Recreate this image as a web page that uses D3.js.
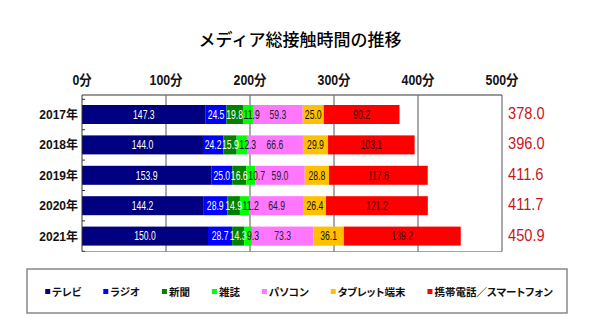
<!DOCTYPE html>
<html><head><meta charset="utf-8">
<script src="https://cdn.jsdelivr.net/npm/d3@7"></script>
<style>
body{margin:0;background:#fff;}
svg{display:block;}
text{font-family:"Liberation Sans","Noto Sans CJK JP",sans-serif;}
</style></head>
<body><svg id="c" width="600" height="336"></svg>
<script>
const years = ["2017年","2018年","2019年","2020年","2021年"];
const seriesNames = ["テレビ","ラジオ","新聞","雑誌","パソコン","タブレット端末","携帯電話／スマートフォン"];
const tv      = [147.3,144.0,153.9,144.2,150.0];
const radio   = [24.5,24.2,25.0,28.9,28.7];
const paper   = [19.8,15.9,16.6,14.9,14.3];
const magazine= [11.9,12.3,10.7,11.2,9.3];
const pc      = [59.3,66.6,59.0,64.9,73.3];
const tablet  = [25.0,29.9,28.8,26.4,36.1];
const mobile  = [90.2,103.1,117.6,121.2,139.2];
const totals  = [378.0,396.0,411.6,411.7,450.9];
const xTicks  = [0,100,200,300,400,500];

const colors = ["#000080","#0000ff","#008000","#00ff00","#ff77ff","#ffc000","#ff0000"];
const labelColors = ["#fff","#fff","#fff","#111","#222","#111","#3a0000"];
const seriesVals = [tv,radio,paper,magazine,pc,tablet,mobile];

const svg = d3.select("#c");
const x = d3.scaleLinear().domain([0,500]).range([82,502]);
const y = d3.scaleBand().domain(years).range([99.3,251.3]);
const barH = 19;
const LS = 0.72; // horizontal squeeze of value labels

// title
svg.append("text").attr("x",300).attr("y",46).attr("text-anchor","middle")
  .style("font-family","'Noto Sans CJK JP',sans-serif").style("font-size","17px").style("font-weight","500")
  .attr("fill","#000").text("メディア総接触時間の推移");

// gridlines
svg.append("g").selectAll("line").data(xTicks.slice(1,5)).join("line")
  .attr("x1",d=>x(d)).attr("x2",d=>x(d)).attr("y1",95).attr("y2",251.5)
  .attr("stroke","#555").attr("stroke-width",1);

// top axis labels
svg.append("g").selectAll("g").data(xTicks).join("g")
  .attr("transform",d=>`translate(${x(d)},85) scale(0.88,1)`)
  .append("text").attr("text-anchor","middle")
  .style("font-size","14px").style("font-weight","bold").attr("fill","#111")
  .text(d=>d+"分");

// stacked data
const stackData = years.map((yr,i)=>{const o={year:yr}; seriesNames.forEach((s,k)=>o[s]=seriesVals[k][i]); return o;});
const stacked = d3.stack().keys(seriesNames)(stackData);

const layers = svg.append("g").selectAll("g").data(stacked).join("g")
  .attr("fill",(d,i)=>colors[i]);
layers.selectAll("rect").data(d=>d).join("rect")
  .attr("x",d=>x(d[0])).attr("width",d=>x(d[1])-x(d[0]))
  .attr("y",d=>y(d.data.year)+(y.bandwidth()-barH)/2).attr("height",barH);

// value labels, nudged right when they would collide
const labelLayer = svg.append("g");
years.forEach((yr,i)=>{
  let prevRight = -Infinity;
  stacked.forEach((layer,k)=>{
    const d = layer[i];
    const cx = (x(d[0])+x(d[1]))/2;
    const g = labelLayer.append("g");
    const t = g.append("text").attr("text-anchor","middle")
      .style("font-size","12px").attr("fill",labelColors[k])
      .text(d3.format(".1f")(d[1]-d[0]));
    const w = t.node().getComputedTextLength()*LS;
    let left = cx - w/2;
    if (left < prevRight + 0.5) left = prevRight + 0.5;
    prevRight = left + w;
    g.attr("transform",`translate(${left + w/2},${y(yr)+y.bandwidth()/2+4.3}) scale(${LS},1)`);
  });
});

// frame: top, right, left axis, bottom
const frame = svg.append("g").attr("fill","none");
frame.append("line").attr("x1",82).attr("x2",502).attr("y1",95).attr("y2",95).attr("stroke","#777").attr("stroke-width",1.5);
frame.append("line").attr("x1",502).attr("x2",502).attr("y1",95).attr("y2",251.5).attr("stroke","#555").attr("stroke-width",1);
frame.append("line").attr("x1",82).attr("x2",82).attr("y1",95).attr("y2",251.5).attr("stroke","#333").attr("stroke-width",1);
frame.append("line").attr("x1",82).attr("x2",502).attr("y1",251.5).attr("y2",251.5).attr("stroke","#666").attr("stroke-width",0.6);
// small category ticks
const bounds = years.map(d=>y(d)).concat([y.range()[1]]);
frame.selectAll("line.t").data(bounds).join("line").attr("class","t")
  .attr("x1",82).attr("x2",85).attr("y1",d=>d).attr("y2",d=>d).attr("stroke","#333");

// year labels
svg.append("g").selectAll("text").data(years).join("text")
  .attr("x",78).attr("y",d=>y(d)+y.bandwidth()/2+4.5).attr("text-anchor","end")
  .style("font-size","12px").style("font-weight","bold").attr("fill","#111").text(d=>d);

// totals
svg.append("g").selectAll("g").data(totals).join("g")
  .attr("transform",(d,i)=>`translate(508,${y(years[i])+y.bandwidth()/2+4.5}) scale(0.86,1)`)
  .append("text").style("font-size","17px").attr("fill","#c8161d")
  .text(d=>d3.format(".1f")(d));

// legend
svg.append("rect").attr("x",27).attr("y",269).attr("width",540).attr("height",44)
  .attr("fill","#fff").attr("stroke","#888").attr("stroke-width",1.5);
const lg = svg.append("g");
let lx = 0;
seriesNames.forEach((s,i)=>{
  lg.append("rect").attr("x",lx).attr("y",289).attr("width",5).attr("height",5).attr("fill",colors[i]);
  const t = lg.append("text").attr("x",lx+7).attr("y",295.5)
    .style("font-family","'Noto Sans CJK JP',sans-serif").style("font-size","10.5px").style("font-weight","bold")
    .style("font-feature-settings","'palt'")
    .attr("fill","#111").text(s);
  lx += 7 + t.node().getComputedTextLength() + (i<seriesNames.length-1 ? 22 : 0);
});
lg.attr("transform",`translate(${299 - lx/2},0)`);
</script></body></html>
